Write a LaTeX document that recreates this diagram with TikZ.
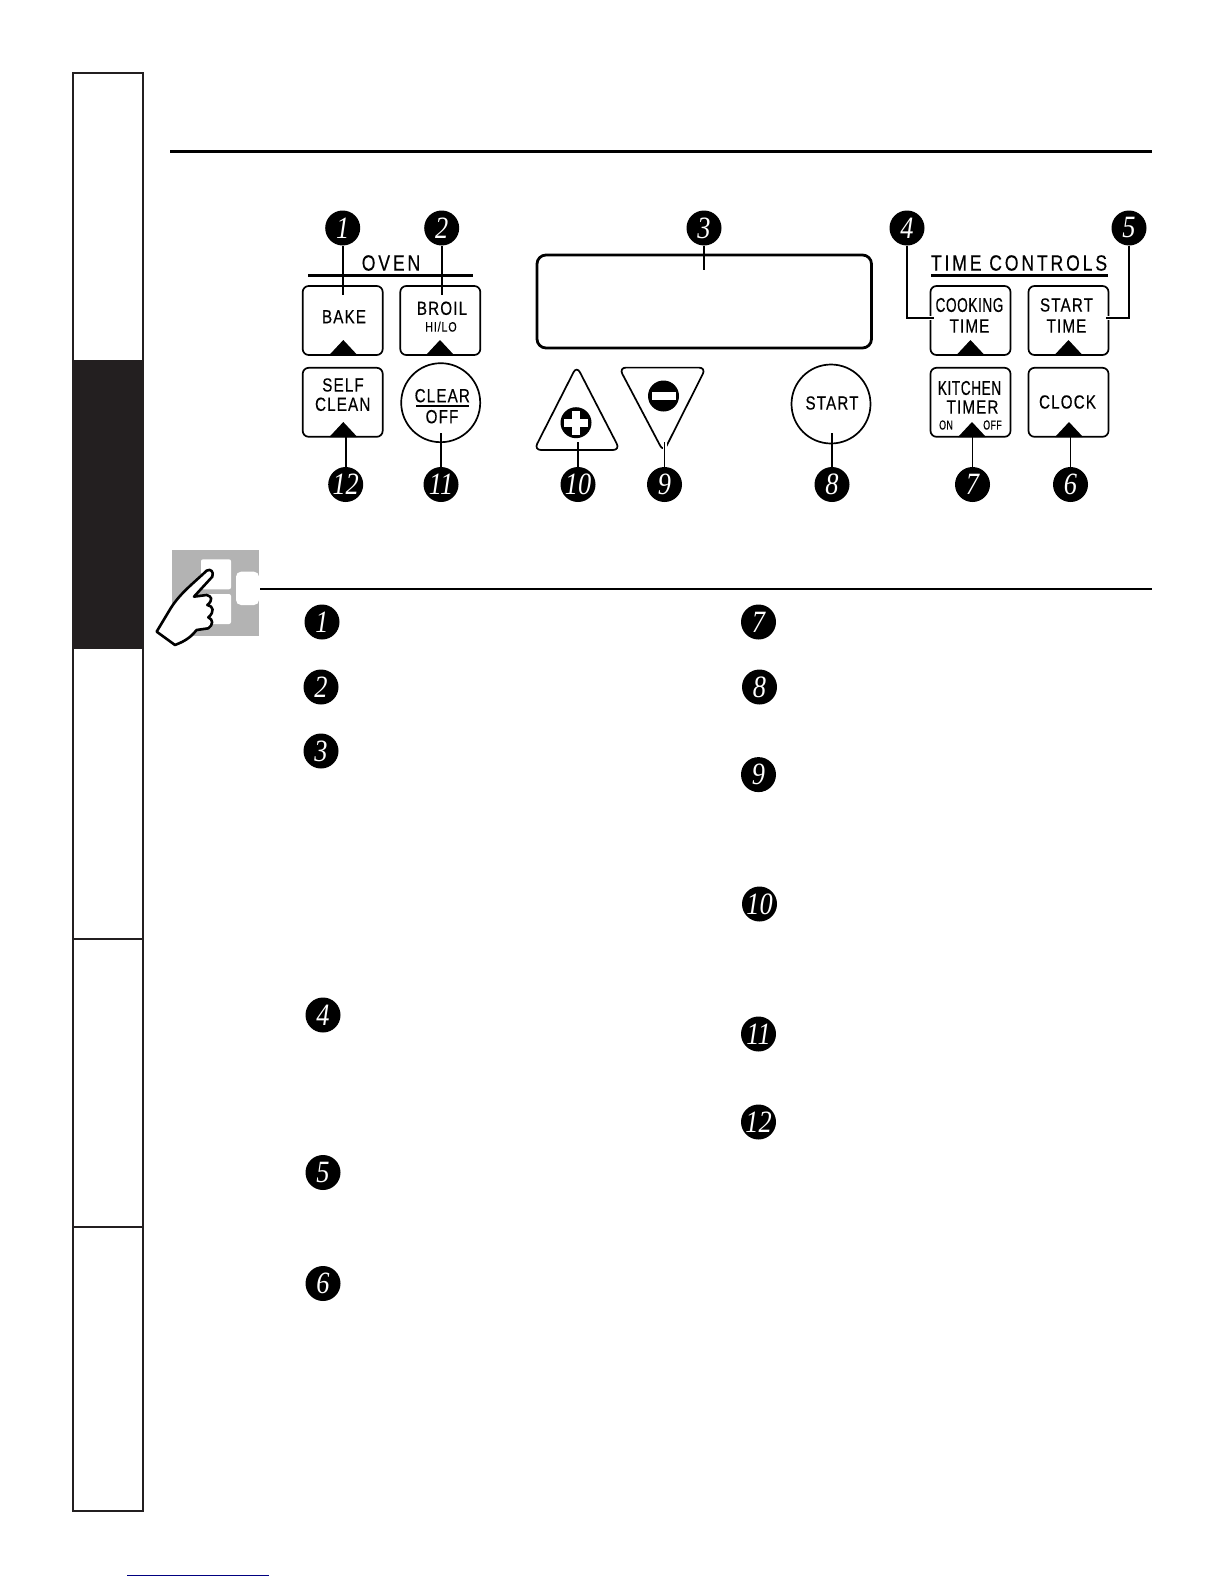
\documentclass[tikz,border=0pt]{standalone}
\usepackage{fontspec}
\newfontfamily\panelfont[FakeStretch=.8,LetterSpace=6,FakeBold=.4]{Liberation Sans}
\newfontfamily\headfont[FakeStretch=.8,LetterSpace=13,FakeBold=.4]{Liberation Sans}
\newfontfamily\narrowfont[FakeStretch=.68,LetterSpace=3,FakeBold=.4]{Liberation Sans}
\newfontfamily\digitfont[FakeStretch=.85]{Liberation Serif}
\definecolor{panelblack}{HTML}{231F20}
\definecolor{handgray}{HTML}{B3B3B3}
\begin{document}
\begin{tikzpicture}[x=1pt,y=-1pt,
badge/.style={circle,fill=black,text=white,minimum size=35,inner sep=0,font=\digitfont\itshape\fontsize{31}{31}\selectfont},
btn/.style={draw=black,line width=1.7,rounded corners=6,minimum width=80,minimum height=69,inner sep=0},
round btn/.style={circle,draw=black,line width=1.7,minimum size=79,inner sep=0},
lbl/.style={inner sep=0,font=\panelfont\fontsize{19}{19}\selectfont},
tight/.style={inner sep=0,font=\narrowfont\fontsize{20}{20}\selectfont},
tiny/.style={inner sep=0,font=\narrowfont\fontsize{13}{13}\selectfont},
small/.style={inner sep=0,font=\panelfont\fontsize{13.5}{13.5}\selectfont},
head/.style={inner sep=0,font=\headfont\fontsize{22}{22}\selectfont},
wire/.style={line width=1.8},
gapwire/.style={line width=1.8,preaction={draw=white,line width=4}}]
\useasboundingbox (0,0) rectangle (1224,1584);
\draw[line width=2,draw=panelblack] (73,73) rectangle (143,1511);
\fill[panelblack] (73,360) rectangle (143,649);
\draw[line width=2,draw=panelblack] (73,939)--(143,939);
\draw[line width=2,draw=panelblack] (73,1227)--(143,1227);
\draw[line width=3.8] (170,151.5)--(1152,151.5);
\node[head] (OVEN) at (391,263) {OVEN};
\draw[line width=3] (308,275.3)--(473,275.3);
\node[head] (TC) at (1019,263) {TIME CONTROLS};
\draw[line width=3] (931,275.3)--(1108,275.3);
\node[btn] (BAKE) at (342.7,320.5) {};
\node[btn] (BROIL) at (440.3,320.5) {};
\node[btn] (SELF) at (342.7,402.3) {};
\node[round btn] (CLEAR) at (440.7,402.7) {};
\node[btn] (COOK) at (970.5,320.5) {};
\node[btn] (STIME) at (1068.5,320.5) {};
\node[btn] (TIMER) at (970.5,402.3) {};
\node[btn] (CLOCK) at (1068.5,402.3) {};
\node[round btn] (START) at (831,404) {};
\draw[line width=2.8,rounded corners=9] (537,255)rectangle (871.5,348);
\draw[line width=1.7,rounded corners=7] (534,450)--(576.7,366)--(620,450)--cycle;
\draw[line width=1.7,rounded corners=7] (619,367.6)--(706,367.6)--(663.5,452)--cycle;
\fill (329.3,355)--++(14,-15)--++(14,15)--cycle;
\fill (426,355)--++(14,-15)--++(14,15)--cycle;
\fill (329.3,437)--++(14,-15)--++(14,15)--cycle;
\fill (956.5,355)--++(14,-15)--++(14,15)--cycle;
\fill (1054.5,355)--++(14,-15)--++(14,15)--cycle;
\fill (958,437)--++(14,-15)--++(14,15)--cycle;
\fill (1055,437)--++(14,-15)--++(14,15)--cycle;
\node[circle,fill=black,minimum size=31,inner sep=0] (PLUS) at (576,422.7) {};
\fill[white] (564,418.7) rectangle (588,426.7);
\fill[white] (572,410.7) rectangle (580,434.7);
\node[circle,fill=black,minimum size=31,inner sep=0] (MINUS) at (663.5,396) {};
\fill[white] (651.5,392) rectangle (675.5,400);
\node[badge] (B1) at (342.7,228) {1};
\node[badge] (B2) at (441.7,228) {2};
\node[badge] (B3) at (704,228) {3};
\node[badge] (B4) at (907,228) {4};
\node[badge] (B5) at (1129,228) {5};
\node[badge] (B6) at (1070.5,484.5) {6};
\node[badge] (B7) at (972.5,484.5) {7};
\node[badge] (B8) at (832,484.5) {8};
\node[badge] (B9) at (664.5,484.5) {9};
\node[badge] (B10) at (578,484.5) {10};
\node[badge] (B11) at (441,484.5) {11};
\node[badge] (B12) at (345.7,484.5) {12};
\coordinate (C1) at (342.7,295);
\coordinate (C2) at (441.7,295);
\coordinate (C3) at (704,270);
\coordinate (C4) at (934,318);
\coordinate (C5) at (1106,318);
\coordinate (C6) at (1070.5,433);
\coordinate (C7) at (972.5,433);
\coordinate (C8) at (832,433);
\coordinate (C9) at (664.5,442);
\coordinate (C10) at (578,442);
\coordinate (C11) at (441,433);
\coordinate (C12) at (345.7,433);
\draw[wire] (B1)--(C1);
\draw[wire] (B2)--(C2);
\draw[wire] (B3)--(C3);
\draw[gapwire] (B4)|-(C4);
\draw[gapwire] (B5)|-(C5);
\draw[wire] (B6)--(C6);
\draw[wire] (B7)--(C7);
\draw[wire] (B8)--(C8);
\draw[gapwire] (B9)--(C9);
\draw[wire] (B10)--(C10);
\draw[wire] (B11)--(C11);
\draw[wire] (B12)--(C12);
\node[lbl] (T1) at (344,316.7) {BAKE};
\node[lbl] (T2) at (442,308.3) {BROIL};
\node[small] (T3) at (441,326.7) {HI/LO};
\node[lbl] (T4) at (343,385) {SELF};
\node[lbl] (T5) at (342.7,404.3) {CLEAN};
\node[lbl] (T6) at (442.3,395.7) {CLEAR};
\draw[line width=1.7] (416,405.7)--(469,405.7);
\node[lbl] (T7) at (442,416.7) {OFF};
\node[tight] (T8) at (969.5,305) {COOKING};
\node[lbl] (T9) at (969.5,326) {TIME};
\node[lbl] (T10) at (1066.5,305) {START};
\node[lbl] (T11) at (1066.5,326) {TIME};
\node[tight] (T12) at (969.5,388) {KITCHEN};
\node[lbl] (T13) at (972.5,407) {TIMER};
\node[tiny] (T14) at (946,425) {ON};
\node[tiny] (T15) at (992.5,425) {OFF};
\node[lbl] (T16) at (1067.5,402) {CLOCK};
\node[lbl] (T17) at (832,403) {START};
\fill[handgray] (172,550) rectangle (259,636);
\fill[white,rounded corners=2] (201,559.3) rectangle (231,589.3);
\fill[white,rounded corners=2] (201,594) rectangle (231,624);
\fill[white,rounded corners=5] (259,571.7)--(236,571.7)--(236,605)--(259,605)--cycle;
\draw[line width=2] (260,589)--(1152,589);
\begin{scope}[shift={(150,530)},scale=.3333]
\draw[line width=2.6,fill=white,line join=round] (20,305)--(62,235)..controls (90,190) and (130,160) ..(170,122)..controls (182,115) and (192,125) ..(187,140)--(132,200)--(170,195)..controls (185,198) and (190,210) ..(172,225)..controls (190,228) and (195,245) ..(175,262)..controls (190,268) and (190,285) ..(175,295)--(140,300)..controls (125,318) and (110,332) ..(75,345)--cycle;
\end{scope}
\node[badge] (D1) at (322,622) {1};
\node[badge] (D2) at (321,687) {2};
\node[badge] (D3) at (321,751) {3};
\node[badge] (D4) at (323,1015) {4};
\node[badge] (D5) at (323,1172.5) {5};
\node[badge] (D6) at (323,1283.5) {6};
\node[badge] (D7) at (758.5,622) {7};
\node[badge] (D8) at (759.5,687) {8};
\node[badge] (D9) at (758.5,774.6) {9};
\node[badge] (D10) at (759.5,904) {10};
\node[badge] (D11) at (758.5,1034) {11};
\node[badge] (D12) at (758.5,1122) {12};
\draw[line width=1,draw=blue!50!black] (127,1575.3)--(269,1575.3);
\end{tikzpicture}
\end{document}
